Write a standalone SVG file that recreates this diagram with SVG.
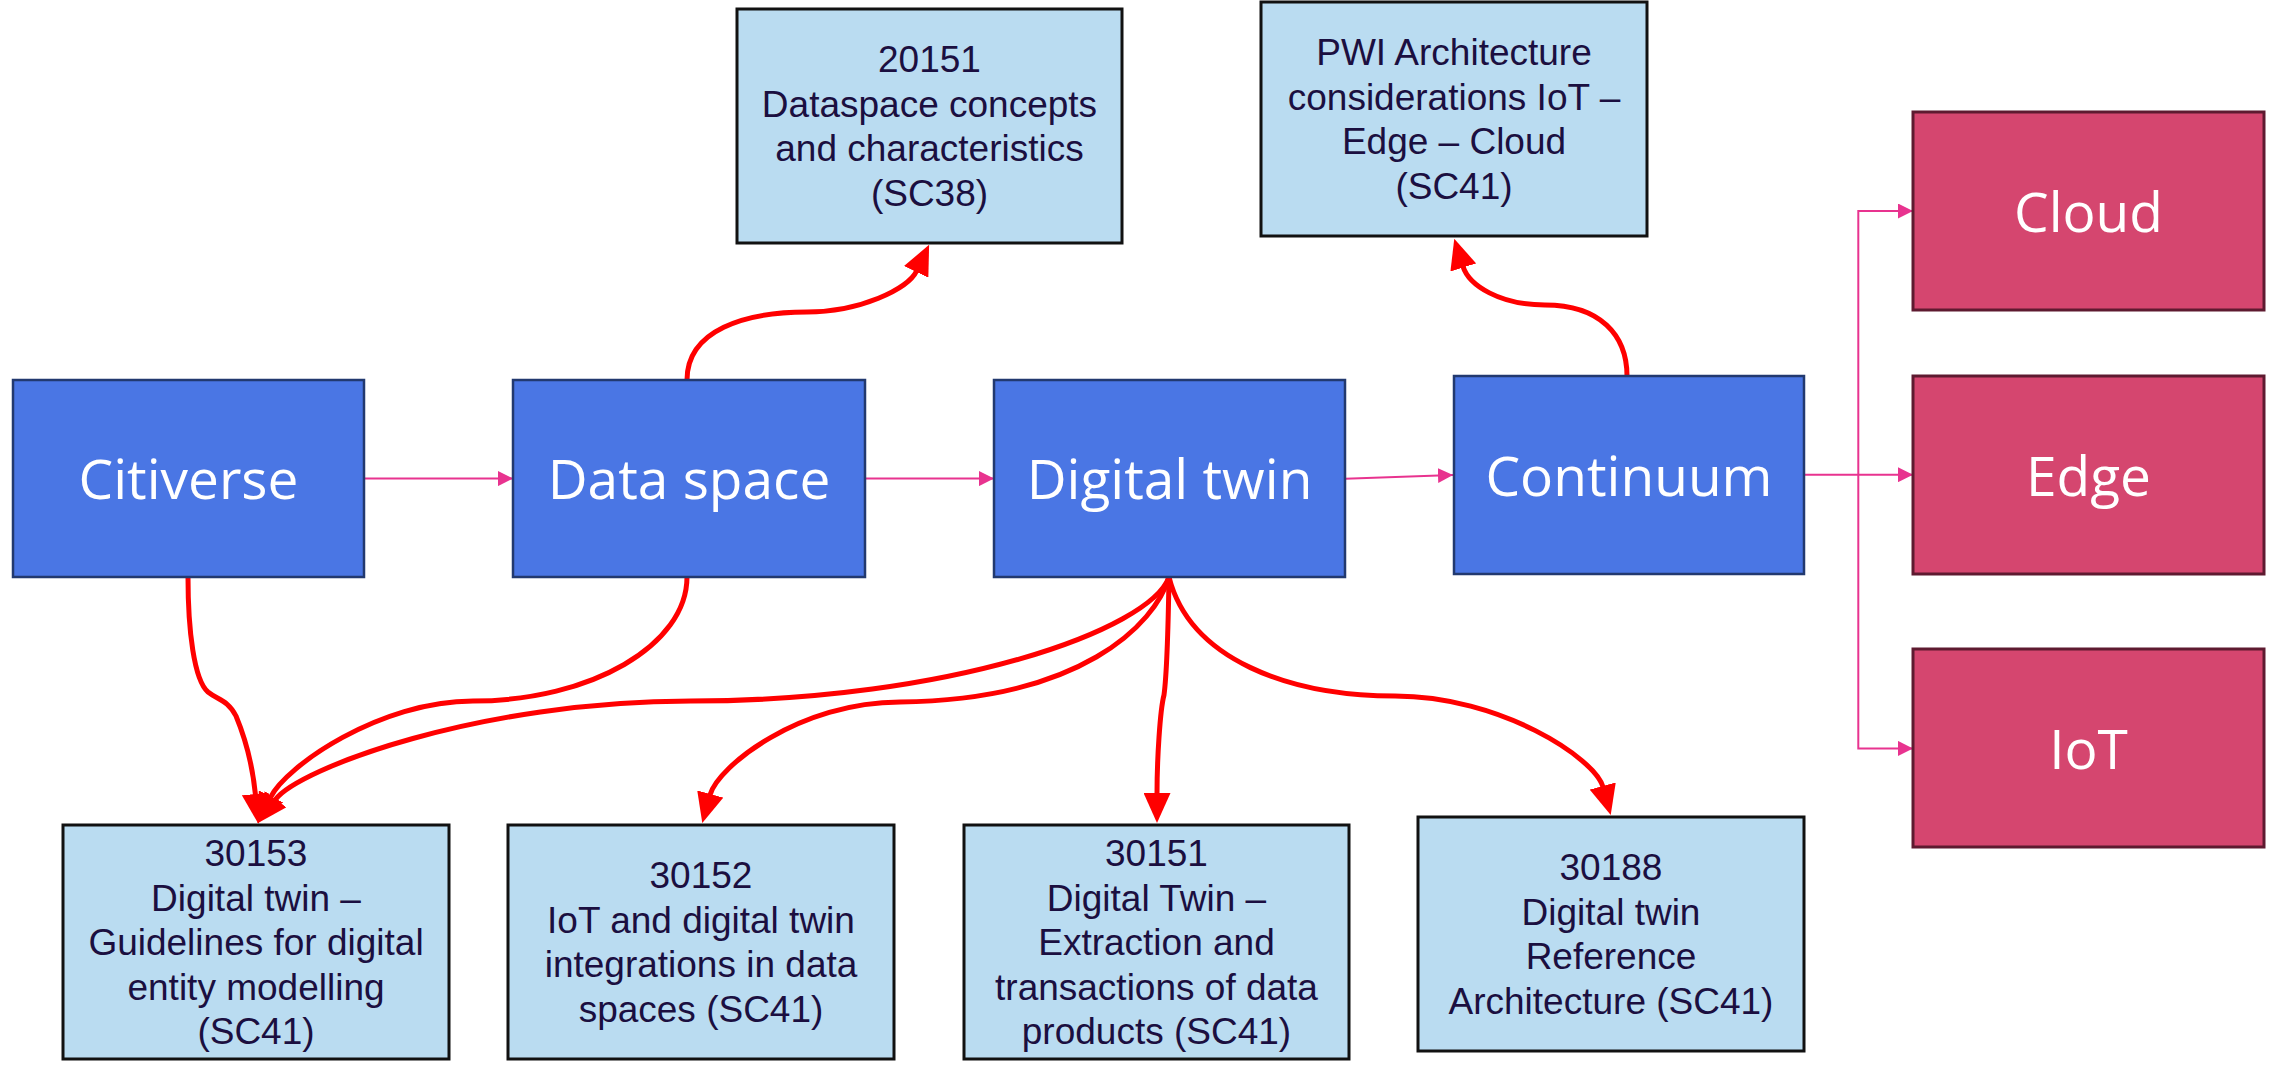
<svg xmlns="http://www.w3.org/2000/svg" width="2280" height="1067" viewBox="0 0 2280 1067">
<style>
.blue{fill:#4a76e4;stroke:#22396f;stroke-width:2.5}
.pink{fill:#d5466f;stroke:#5e1a30;stroke-width:3}
.lb{fill:#badcf1;stroke:#111;stroke-width:3}
.big{font-family:"Open Sans","Noto Sans",sans-serif;font-size:55px;fill:#fff;text-anchor:middle}
.sm{font-family:"Liberation Sans",Arial,sans-serif;font-size:37px;fill:#1b0f40;text-anchor:middle}
.pl{fill:none;stroke:#e8338f;stroke-width:2}
.rl{fill:none;stroke:#ff0000;stroke-width:5}
</style>
<defs>
<marker id="pa" markerUnits="userSpaceOnUse" viewBox="0 0 15 15" markerWidth="15" markerHeight="15" refX="15" refY="7.5" orient="auto"><path d="M0,0 L15,7.5 L0,15 z" fill="#e8338f"/></marker>
<marker id="ra" markerUnits="userSpaceOnUse" viewBox="0 0 30 27" markerWidth="30" markerHeight="27" refX="1" refY="13.5" orient="auto"><path d="M0,0 L30,13.5 L0,27 z" fill="#ff0000"/></marker>
</defs>

<g id="connectors">
<path class="pl" marker-end="url(#pa)" d="M364 478.6 L513 478.6"/>
<path class="pl" marker-end="url(#pa)" d="M865 478.6 L994 478.6"/>
<path class="pl" marker-end="url(#pa)" d="M1345 478.7 L1453 475"/>
<path class="pl" marker-end="url(#pa)" d="M1804 474.7 L1913 474.7"/>
<path class="pl" marker-end="url(#pa)" d="M1858.3 474.7 L1858.3 211 L1913 211"/>
<path class="pl" marker-end="url(#pa)" d="M1858.3 474.7 L1858.3 748.4 L1913 748.4"/>
<path class="rl" marker-end="url(#ra)" d="M687 380 C687 330 745 312 807 312 C860 312 908 289 916.6 271"/>
<path class="rl" marker-end="url(#ra)" d="M1627 376 C1627 335 1600 305 1545 305 C1500 305 1469 285.5 1463 266.5"/>
<path class="rl" marker-end="url(#ra)" d="M188 577 C188 630 194 680 208 692 C218 700 228 700 236 716 C246 740 253 770 255.5 795"/>
<path class="rl" marker-end="url(#ra)" d="M687 577 C687 645 591 701 473 701 C380 701 286 766 270.5 797.3"/>
<path class="rl" marker-end="url(#ra)" d="M1169 577 C1150 630 950 701 691 701 C480 701 299 768 275 800"/>
<path class="rl" marker-end="url(#ra)" d="M1169 577 C1155 625 1080 700 900 702 C800 702 718 766 710 795"/>
<path class="rl" marker-end="url(#ra)" d="M1169 577 C1168 640 1166 680 1164 695 C1160 710 1157 760 1157 794"/>
<path class="rl" marker-end="url(#ra)" d="M1169 577 C1190 660 1290 696 1395 696 C1500 696 1595 758 1603 787"/>
</g>

<g id="citiverse"><rect class="blue" x="13" y="380" width="351" height="197"/><text class="big" x="188.5" y="499">Citiverse</text></g>
<g id="dataspace"><rect class="blue" x="513" y="380" width="352" height="197"/><text class="big" x="689" y="499">Data space</text></g>
<g id="digitaltwin"><rect class="blue" x="994" y="380" width="351" height="197"/><text class="big" x="1169.5" y="499">Digital twin</text></g>
<g id="continuum"><rect class="blue" x="1454" y="376" width="350" height="198"/><text class="big" x="1629" y="495.5">Continuum</text></g>
<g id="cloud"><rect class="pink" x="1913" y="112" width="351" height="198"/><text class="big" x="2088.5" y="232">Cloud</text></g>
<g id="edge"><rect class="pink" x="1913" y="376" width="351" height="198"/><text class="big" x="2088.5" y="496">Edge</text></g>
<g id="iot"><rect class="pink" x="1913" y="649" width="351" height="198"/><text class="big" x="2088.5" y="769">IoT</text></g>

<g id="n20151"><rect class="lb" x="737" y="9" width="385" height="234"/>
<text class="sm"><tspan x="929.5" y="72.25">20151</tspan><tspan x="929.5" y="116.75">Dataspace concepts</tspan><tspan x="929.5" y="161.25">and characteristics</tspan><tspan x="929.5" y="205.75">(SC38)</tspan></text></g>
<g id="pwi"><rect class="lb" x="1261" y="2" width="386" height="234"/>
<text class="sm"><tspan x="1454" y="65.25">PWI Architecture</tspan><tspan x="1454" y="109.75">considerations IoT –</tspan><tspan x="1454" y="154.25">Edge – Cloud</tspan><tspan x="1454" y="198.75">(SC41)</tspan></text></g>
<g id="n30153"><rect class="lb" x="63" y="825" width="386" height="234"/>
<text class="sm"><tspan x="256" y="866">30153</tspan><tspan x="256" y="910.5">Digital twin –</tspan><tspan x="256" y="955">Guidelines for digital</tspan><tspan x="256" y="999.5">entity modelling</tspan><tspan x="256" y="1044">(SC41)</tspan></text></g>
<g id="n30152"><rect class="lb" x="508" y="825" width="386" height="234"/>
<text class="sm"><tspan x="701" y="888.25">30152</tspan><tspan x="701" y="932.75">IoT and digital twin</tspan><tspan x="701" y="977.25">integrations in data</tspan><tspan x="701" y="1021.75">spaces (SC41)</tspan></text></g>
<g id="n30151"><rect class="lb" x="964" y="825" width="385" height="234"/>
<text class="sm"><tspan x="1156.5" y="866">30151</tspan><tspan x="1156.5" y="910.5">Digital Twin –</tspan><tspan x="1156.5" y="955">Extraction and</tspan><tspan x="1156.5" y="999.5">transactions of data</tspan><tspan x="1156.5" y="1044">products (SC41)</tspan></text></g>
<g id="n30188"><rect class="lb" x="1418" y="817" width="386" height="234"/>
<text class="sm"><tspan x="1611" y="880.25">30188</tspan><tspan x="1611" y="924.75">Digital twin</tspan><tspan x="1611" y="969.25">Reference</tspan><tspan x="1611" y="1013.75">Architecture (SC41)</tspan></text></g>
</svg>
